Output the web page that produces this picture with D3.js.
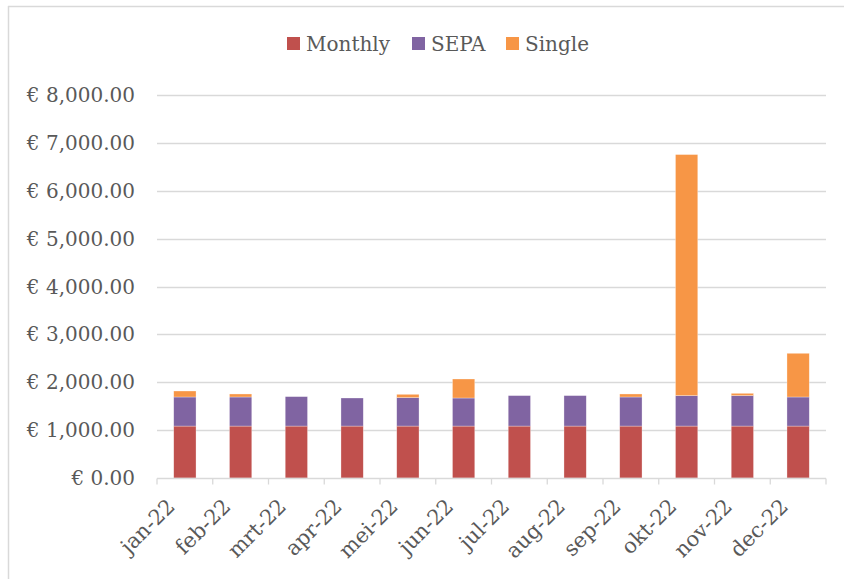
<!DOCTYPE html>
<html>
<head>
<meta charset="utf-8">
<script src="https://cdn.jsdelivr.net/npm/d3@7"></script>
<style>
  body { margin: 0; background: #fff; }
  text { font-family: "DejaVu Serif", "Liberation Serif", serif; fill: #595959; }
</style>
</head>
<body>
<div id="chart"></div>
<script>
const months = ["jan-22", "feb-22", "mrt-22", "apr-22", "mei-22", "jun-22", "jul-22", "aug-22", "sep-22", "okt-22", "nov-22", "dec-22"];
const monthly = [1085, 1085, 1085, 1085, 1085, 1085, 1085, 1085, 1085, 1085, 1085, 1085];
const sepa = [607, 607, 615, 586, 594, 586, 636, 636, 607, 636, 636, 607];
const single = [125, 63, 0, 0, 69, 397, 0, 0, 63, 5035, 48, 913];
const seriesNames = ["Monthly", "SEPA", "Single"];
const yTicks = [0, 1000, 2000, 3000, 4000, 5000, 6000, 7000, 8000];

const width = 844, height = 579;
const margin = { top: 95, right: 18, bottom: 101, left: 157 };

const colors = d3.scaleOrdinal()
    .domain(seriesNames)
    .range(["#C0504D", "#8064A2", "#F79646"]);

const rows = months.map((m, i) => ({ month: m, Monthly: monthly[i], SEPA: sepa[i], Single: single[i] }));
const stacked = d3.stack().keys(seriesNames)(rows);

const svg = d3.select("#chart").append("svg")
    .attr("width", width)
    .attr("height", height);

// chart frame (only top and left edges are visible in the crop)
svg.append("line").attr("x1", 8).attr("x2", width).attr("y1", 6.5).attr("y2", 6.5)
    .attr("stroke", "#d9d9d9").attr("stroke-width", 1.5);
svg.append("line").attr("x1", 8.5).attr("x2", 8.5).attr("y1", 6).attr("y2", height)
    .attr("stroke", "#d9d9d9").attr("stroke-width", 1.5);

const x = d3.scaleBand()
    .domain(months)
    .range([margin.left, width - margin.right])
    .paddingInner(0.6)
    .paddingOuter(0.3);

const y = d3.scaleLinear()
    .domain([0, 8000])
    .range([height - margin.bottom, margin.top]);

// gridlines
svg.append("g")
    .selectAll("line")
    .data(yTicks.slice(1))
    .join("line")
    .attr("x1", margin.left)
    .attr("x2", width - margin.right)
    .attr("y1", d => Math.round(y(d)) + 0.5)
    .attr("y2", d => Math.round(y(d)) + 0.5)
    .attr("stroke", "#d9d9d9")
    .attr("stroke-width", 1.3);

// y labels
const fmt = d3.format(",.2f");
svg.append("g")
    .selectAll("text")
    .data(yTicks)
    .join("text")
    .attr("x", margin.left - 22)
    .attr("y", d => y(d))
    .attr("dy", "0.35em")
    .attr("text-anchor", "end")
    .attr("font-size", "20px")
    .text(d => "€ " + fmt(d));

// bars
svg.append("g")
    .selectAll("g")
    .data(stacked)
    .join("g")
    .attr("fill", d => colors(d.key))
    .selectAll("rect")
    .data(d => d)
    .join("rect")
    .attr("x", d => x(d.data.month))
    .attr("width", x.bandwidth())
    .attr("y", d => y(d[1]))
    .attr("height", d => y(d[0]) - y(d[1]))
    .attr("stroke", "#ffffff")
    .attr("stroke-opacity", 0.5)
    .attr("stroke-width", 0.6);

// x axis line and tick marks at category boundaries
const step = x.step();
const y0 = Math.round(y(0)) + 0.5;
svg.append("line")
    .attr("x1", margin.left).attr("x2", width - margin.right)
    .attr("y1", y0).attr("y2", y0)
    .attr("stroke", "#d9d9d9").attr("stroke-width", 1.3);
svg.append("g")
    .selectAll("line")
    .data(d3.range(months.length + 1))
    .join("line")
    .attr("x1", i => margin.left + i * step)
    .attr("x2", i => margin.left + i * step)
    .attr("y1", y0)
    .attr("y2", y0 + 6)
    .attr("stroke", "#d9d9d9").attr("stroke-width", 1.3);

// x labels, rotated
svg.append("g")
    .selectAll("text")
    .data(months)
    .join("text")
    .attr("transform", d => `translate(${x(d) + x.bandwidth() / 2 - 14}, ${y0 + 24}) rotate(-45)`)
    .attr("text-anchor", "end")
    .attr("dy", "0.35em")
    .attr("font-size", "21px")
    .text(d => d);

// legend
const legendX = [287, 412, 506];
const legend = svg.append("g")
    .selectAll("g")
    .data(seriesNames)
    .join("g")
    .attr("transform", (d, i) => `translate(${legendX[i]}, 37)`);
legend.append("rect")
    .attr("width", 13).attr("height", 13)
    .attr("fill", d => colors(d));
legend.append("text")
    .attr("x", 19).attr("y", 6.5)
    .attr("dy", "0.35em")
    .attr("font-size", "20px")
    .text(d => d);
</script>
</body>
</html>
